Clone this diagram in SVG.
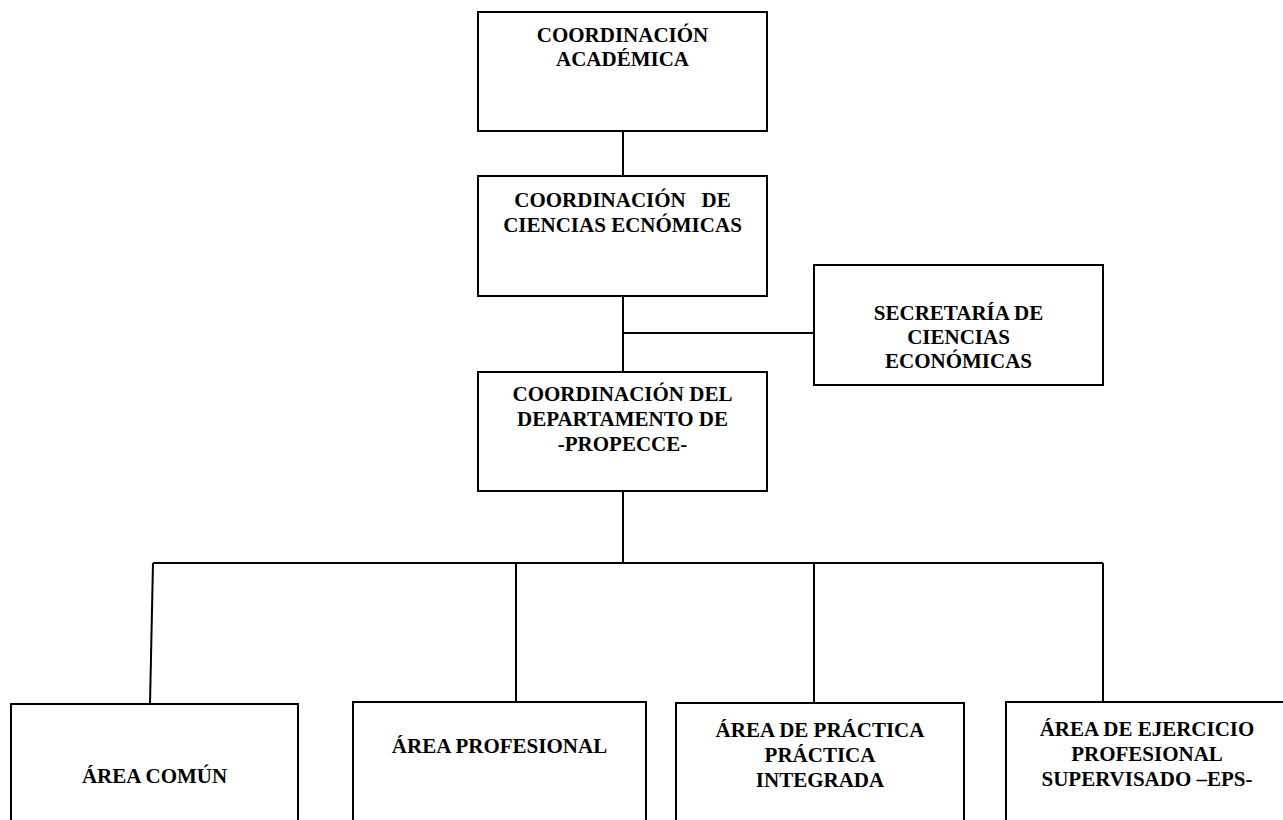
<svg xmlns="http://www.w3.org/2000/svg" width="1283" height="820" viewBox="0 0 1283 820">
  <style>
    .box { fill: #ffffff; stroke: #000000; stroke-width: 2; }
    .wire { fill: none; stroke: #000000; stroke-width: 2; }
    .lbl { font-family: "Liberation Serif", "Times New Roman", serif; font-weight: bold; font-size: 21px; fill: #000000; text-anchor: middle; }
  </style>
  <rect width="1283" height="820" fill="#ffffff"/>

  <!-- connectors -->
  <g id="connectors">
    <path class="wire" d="M623 131 V176"/>
    <path class="wire" d="M623 296 V372"/>
    <path class="wire" d="M623 333 H814"/>
    <path class="wire" d="M623 491 V563"/>
    <path class="wire" d="M153 563 H1103"/>
    <path class="wire" d="M153 563 L150 704"/>
    <path class="wire" d="M516 563 V702"/>
    <path class="wire" d="M814 563 V703"/>
    <path class="wire" d="M1103 563 V702"/>
  </g>

  <g id="coord-academica">
    <rect class="box" x="478" y="12" width="289" height="119"/>
    <text class="lbl" x="622.5" y="42">COORDINACIÓN</text>
    <text class="lbl" x="622.5" y="66">ACADÉMICA</text>
  </g>

  <g id="coord-ciencias">
    <rect class="box" x="478" y="176" width="289" height="120"/>
    <text class="lbl" x="622.5" y="207" xml:space="preserve">COORDINACIÓN   DE</text>
    <text class="lbl" x="622.5" y="232">CIENCIAS ECNÓMICAS</text>
  </g>

  <g id="secretaria">
    <rect class="box" x="814" y="265" width="289" height="120"/>
    <text class="lbl" x="958.5" y="320">SECRETARÍA DE</text>
    <text class="lbl" x="958.5" y="344">CIENCIAS</text>
    <text class="lbl" x="958.5" y="368">ECONÓMICAS</text>
  </g>

  <g id="coord-propecce">
    <rect class="box" x="478" y="372" width="289" height="119"/>
    <text class="lbl" x="622.5" y="401">COORDINACIÓN DEL</text>
    <text class="lbl" x="622.5" y="426">DEPARTAMENTO DE</text>
    <text class="lbl" x="622.5" y="451">-PROPECCE-</text>
  </g>

  <g id="area-comun">
    <rect class="box" x="11" y="704" width="287" height="140"/>
    <text class="lbl" x="154.5" y="783">ÁREA COMÚN</text>
  </g>

  <g id="area-profesional">
    <rect class="box" x="353" y="702" width="293" height="140"/>
    <text class="lbl" x="499.5" y="753">ÁREA PROFESIONAL</text>
  </g>

  <g id="area-practica">
    <rect class="box" x="676" y="703" width="288" height="140"/>
    <text class="lbl" x="820" y="737">ÁREA DE PRÁCTICA</text>
    <text class="lbl" x="820" y="762">PRÁCTICA</text>
    <text class="lbl" x="820" y="787">INTEGRADA</text>
  </g>

  <g id="area-eps">
    <rect class="box" x="1006" y="702" width="288" height="140"/>
    <text class="lbl" x="1147" y="736">ÁREA DE EJERCICIO</text>
    <text class="lbl" x="1147" y="761">PROFESIONAL</text>
    <text class="lbl" x="1147" y="786">SUPERVISADO –EPS-</text>
  </g>
</svg>
